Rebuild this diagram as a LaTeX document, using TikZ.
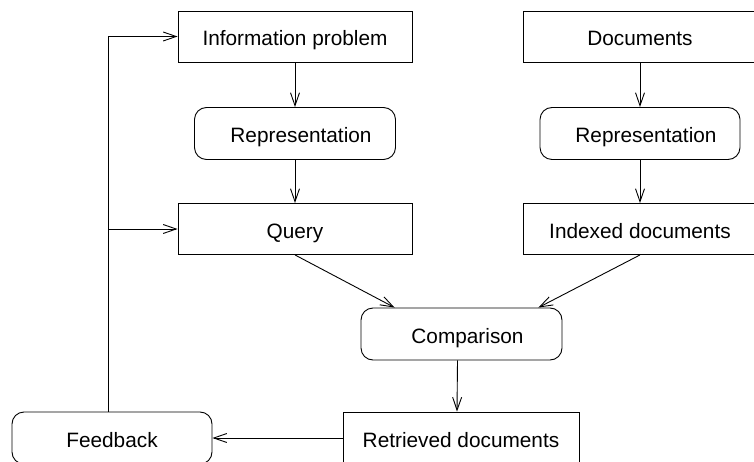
\documentclass[tikz,border=0pt]{standalone}
\usepackage{fontspec}
\setmainfont{Liberation Sans}
\usepackage{tikz}
\usetikzlibrary{arrows.meta}
\usetikzlibrary{positioning}
\tikzset{
doc box/.style = { rectangle, draw = black, fill = white, line width = 0.9pt, minimum width = 234pt, minimum height = 51pt, text height = 21pt, text depth = 2pt, font = \fontsize{20.8}{25}\selectfont },
proc box/.style = { rectangle, draw = black, fill = white, line width = 0.9pt, minimum height = 52pt, rounded corners = 12pt, text height = 21pt, text depth = 2pt, font = \fontsize{20.8}{25}\selectfont },
off centre/.style = { execute at begin node = \hspace*{12pt} },
flow/.style = { draw = black, line width = 0.9pt, -{Straight Barb[length = 13pt, width = 9pt]} },
}

\begin{document}
\begin{tikzpicture}[x = 1pt, y = -1pt]
      \useasboundingbox (0, 0) rectangle (754, 462);
      \clip (0, 0) rectangle (754, 462);
      % user side
      \node[doc box] (problem) at (295, 36.5) {Information problem};
      \node[proc box, off centre, minimum width = 201pt] (rep1) at (295, 133.5) {Representation};
      \node[doc box] (query) at (295, 229) {Query};
      % collection side
      \node[doc box] (documents) at (640, 36.5) {Documents};
      \node[proc box, off centre, minimum width = 200pt] (rep2) at (640, 133.5) {Representation};
      \node[doc box] (indexed) at (640, 229) {Indexed documents};
      % matching
      \node[proc box, off centre, minimum width = 201pt] (comparison) at (461.5, 334) {Comparison};
      \node[doc box, minimum width = 236pt, minimum height = 52pt] (retrieved) at (461, 438) {Retrieved documents};
      \node[proc box, minimum width = 200pt] (feedback) at (112, 438) {Feedback};
      \coordinate (loop) at ([xshift = -4pt]feedback.north);
      \draw[flow] (problem) -- (rep1);
      \draw[flow] (rep1) -- (query);
      \draw[flow] (documents) -- (rep2);
      \draw[flow] (rep2) -- (indexed);
      \draw[flow] (query.south) -- ([xshift = 34pt]comparison.north west);
      \draw[flow] (indexed.south) -- ([xshift = -24pt]comparison.north east);
      \draw[flow] ([xshift = -4pt]comparison.south) -- ([xshift = -4pt]retrieved.north);
      \draw[flow] (retrieved.west) -- (feedback.east);
      \draw[flow] (loop) |- (problem.west);
      \draw[flow] (loop |- query.west) -- (query.west);
    \end{tikzpicture}
\end{document}
